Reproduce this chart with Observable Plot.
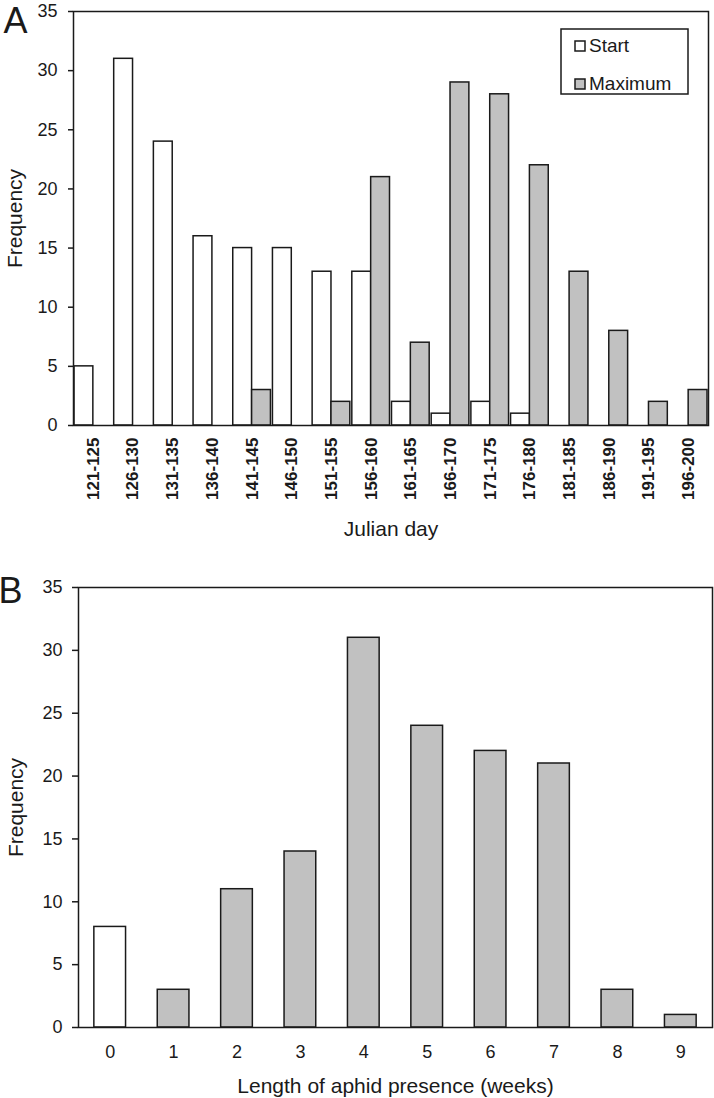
<!DOCTYPE html>
<html>
<head>
<meta charset="utf-8">
<script src="https://cdn.jsdelivr.net/npm/d3@7"></script>
<script src="https://cdn.jsdelivr.net/npm/@observablehq/plot@0.6"></script>
<style>
  body { margin: 0; background: #ffffff; }
  #wrap { position: relative; width: 714px; height: 1098px; background: #ffffff; }
  #wrap svg { display: block; }
</style>
</head>
<body>
<div id="wrap"></div>
<script>
// ---------- Data ----------
const dayBins = ["121-125","126-130","131-135","136-140","141-145","146-150","151-155","156-160",
                 "161-165","166-170","171-175","176-180","181-185","186-190","191-195","196-200"];
const startCounts   = [5, 31, 24, 16, 15, 15, 13, 13, 2, 1, 2, 1, 0, 0, 0, 0];
const maximumCounts = [0, 0, 0, 0, 3, 0, 2, 21, 7, 29, 28, 22, 13, 8, 2, 3];
const seriesNames = ["Start", "Maximum"];

const weekLabels = ["0","1","2","3","4","5","6","7","8","9"];
const weekCounts = [8, 3, 11, 14, 31, 24, 22, 21, 3, 1];

const yTicks = [0, 5, 10, 15, 20, 25, 30, 35];

// ---------- Styles ----------
const FONT = '"Liberation Sans", Arial, Helvetica, sans-serif';
const INK = "#1a1a1a";
const WHITE = "#ffffff";
const GRAY = "#c1c1c1";
const seriesFills = [WHITE, GRAY];
const W = 714;

const wrap = document.getElementById("wrap");

// ---------- Panel A ----------
const mA = {top: 11, right: 6, bottom: 135, left: 73};
const bwA = (W - mA.left - mA.right) / dayBins.length;
const startData = dayBins.map((bin, i) => ({bin, count: startCounts[i]})).filter(d => d.count > 0);
const maxData = dayBins.map((bin, i) => ({bin, count: maximumCounts[i]})).filter(d => d.count > 0);

const plotA = Plot.plot({
  width: W, height: 560,
  marginTop: mA.top, marginRight: mA.right, marginBottom: mA.bottom, marginLeft: mA.left,
  style: {fontFamily: FONT, background: "#ffffff", color: INK},
  x: {type: "band", domain: dayBins, padding: 0, round: false},
  y: {domain: [0, 35]},
  marks: [
    Plot.barY(startData, {x: "bin", y: "count", fill: seriesFills[0], stroke: INK, strokeWidth: 1.5,
      insetLeft: 1, insetRight: bwA / 2}),
    Plot.barY(maxData, {x: "bin", y: "count", fill: seriesFills[1], stroke: INK, strokeWidth: 1.5,
      insetLeft: bwA / 2, insetRight: 1}),
    Plot.frame({stroke: INK, strokeWidth: 1.5}),
    Plot.axisY({ticks: yTicks, tickSize: 5, tickPadding: 11, fontSize: 18, strokeWidth: 1.5, label: null}),
    Plot.axisX({tickRotate: -90, tickSize: 0, tickPadding: 12, fontSize: 17, fontWeight: "bold", label: null}),
    Plot.text(["Julian day"], {text: d => d, frameAnchor: "bottom", lineAnchor: "top", dy: 96, fontSize: 21, fill: INK}),
    Plot.text(["Frequency"], {text: d => d, frameAnchor: "left", rotate: -90, textAnchor: "middle", lineAnchor: "top", dx: -66, fontSize: 21, fill: INK}),
    Plot.text(["A"], {text: d => d, frameAnchor: "top-left", textAnchor: "start", lineAnchor: "top", dx: -70, dy: -4, fontSize: 36, fill: INK})
  ]
});
wrap.appendChild(plotA);

// Legend (inside panel A)
{
  const svg = d3.select(plotA);
  const g = svg.append("g").attr("font-family", FONT).attr("font-size", 19)
    .attr("fill", INK).attr("text-anchor", "start");
  g.append("rect").attr("x", 561).attr("y", 29).attr("width", 127).attr("height", 65)
    .attr("fill", "#ffffff").attr("stroke", INK).attr("stroke-width", 1.5);
  seriesNames.forEach((name, i) => {
    const y0 = 41 + i * 38;
    g.append("rect").attr("x", 575).attr("y", y0).attr("width", 10).attr("height", 10)
      .attr("fill", seriesFills[i]).attr("stroke", INK).attr("stroke-width", 1.5);
    g.append("text").attr("x", 589).attr("y", y0 + 11).attr("text-anchor", "start").text(name);
  });
}

// ---------- Panel B ----------
const weekData = weekLabels.map((week, i) => ({week, count: weekCounts[i]}));

const plotB = Plot.plot({
  width: W, height: 538,
  marginTop: 27, marginRight: 2, marginBottom: 71, marginLeft: 78,
  style: {fontFamily: FONT, background: "#ffffff", color: INK},
  x: {type: "band", domain: weekLabels, paddingInner: 0.5, paddingOuter: 0.25, round: false},
  y: {domain: [0, 35]},
  marks: [
    Plot.barY(weekData, {x: "week", y: "count", fill: d => d.week === "0" ? WHITE : GRAY, stroke: INK, strokeWidth: 1.5}),
    Plot.frame({stroke: INK, strokeWidth: 1.5}),
    Plot.axisY({ticks: yTicks, tickSize: 6, tickPadding: 10, fontSize: 18, strokeWidth: 1.5, label: null}),
    Plot.axisX({tickSize: 0, tickPadding: 18, fontSize: 18, label: null}),
    Plot.text(["Length of aphid presence (weeks)"], {text: d => d, frameAnchor: "bottom", lineAnchor: "top", dy: 51, fontSize: 21, fill: INK}),
    Plot.text(["Frequency"], {text: d => d, frameAnchor: "left", rotate: -90, textAnchor: "middle", lineAnchor: "top", dx: -70, fontSize: 21, fill: INK}),
    Plot.text(["B"], {text: d => d, frameAnchor: "top-left", textAnchor: "start", lineAnchor: "top", dx: -80, dy: -10, fontSize: 36, fill: INK})
  ]
});
wrap.appendChild(plotB);
</script>
</body>
</html>
